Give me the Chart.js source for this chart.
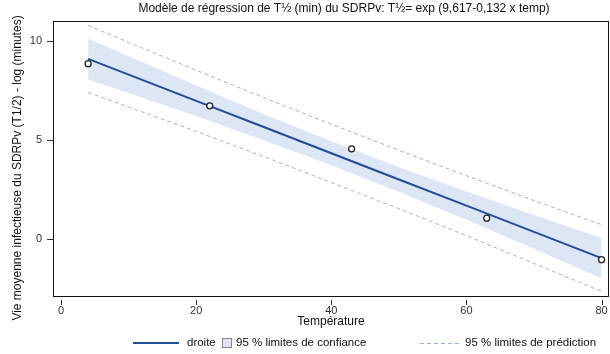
<!DOCTYPE html>
<html>
<head>
<meta charset="utf-8">
<script src="https://cdn.jsdelivr.net/npm/chart.js@4.4.0/dist/chart.umd.min.js"></script>
<style>
    html, body { margin: 0; padding: 0; background: #fff; }
    #wrap { width: 610px; height: 354px; }
</style>
</head>
<body>
<div id="wrap"><canvas id="chart" width="610" height="354"></canvas></div>
<script>
// Observed points (temperature, log half-life)
const obsTemp = [4, 22, 43, 63, 80];
const obsLogT = [8.85, 6.73, 4.56, 1.07, -1.02];

// Fitted line and 95 % bands, read along the temperature grid
const gridTemp = [4, 10, 20, 30, 40, 50, 60, 70, 80];
const fitLine = [9.09, 8.30, 6.98, 5.66, 4.34, 3.02, 1.70, 0.38, -0.94];
const ciLow   = [8.06, 7.37, 6.21, 5.00, 3.74, 2.40, 0.99, -0.47, -1.96];
const ciHigh  = [10.12, 9.22, 7.75, 6.31, 4.94, 3.64, 2.41, 1.23, 0.07];
const piLow   = [7.40, 6.67, 5.44, 4.17, 2.87, 1.55, 0.19, -1.21, -2.62];
const piHigh  = [10.78, 9.92, 8.52, 7.14, 5.80, 4.49, 3.21, 1.96, 0.74];

// Tick labels
const xTicks = [0, 20, 40, 60, 80];
const yTicks = [0, 5, 10];

const FONT = '"Liberation Sans", Arial, sans-serif';
const lineColor = '#1f4e97';
const bandColor = '#dde6f4';
const dashColor = '#9fb3d8';

const toXY = (xs, ys) => xs.map((x, i) => ({ x: x, y: ys[i] }));

// Frame, tick marks, titles and legend
const framePlugin = {
    id: 'frame',
    afterDraw(chart) {
        const ctx = chart.ctx;
        const a = chart.chartArea;
        const xs = chart.scales.x;
        const ys = chart.scales.y;
        ctx.save();
        ctx.strokeStyle = '#111';
        ctx.lineWidth = 1;
        ctx.strokeRect(Math.round(a.left) + 0.5, Math.round(a.top) + 0.5,
            Math.round(a.right - a.left) - 1, Math.round(a.bottom - a.top) - 1);

        ctx.strokeStyle = '#333';
        ctx.beginPath();
        yTicks.forEach(v => {
            const py = Math.round(ys.getPixelForValue(v)) + 0.5;
            ctx.moveTo(a.left - 6, py);
            ctx.lineTo(a.left, py);
        });
        xTicks.forEach(v => {
            const px = Math.round(xs.getPixelForValue(v)) + 0.5;
            ctx.moveTo(px, a.bottom + 3);
            ctx.lineTo(px, a.bottom + 8);
        });
        ctx.stroke();

        // Title
        ctx.fillStyle = '#111';
        ctx.font = '12px ' + FONT;
        ctx.textAlign = 'center';
        ctx.textBaseline = 'middle';
        ctx.fillText('Modèle de régression de T½ (min) du SDRPv: T½= exp (9,617-0,132 x temp)', 344, 9);

        // Y axis title (runs a bit past the plot, as in the original)
        ctx.save();
        ctx.translate(18, 168);
        ctx.rotate(-Math.PI / 2);
        ctx.fillText('Vie moyenne infectieuse du SDRPv (T1/2) - log (minutes)', 0, 0);
        ctx.restore();

        // Legend
        const ly = 343;
        ctx.textAlign = 'left';
        ctx.font = '11.5px ' + FONT;
        ctx.strokeStyle = lineColor;
        ctx.lineWidth = 2;
        ctx.beginPath();
        ctx.moveTo(133, ly);
        ctx.lineTo(179, ly);
        ctx.stroke();
        ctx.fillText('droite', 187, ly);

        ctx.fillStyle = bandColor;
        ctx.fillRect(222, 338, 9, 9);
        ctx.strokeStyle = '#888';
        ctx.lineWidth = 1;
        ctx.strokeRect(222.5, 338.5, 9, 9);
        ctx.fillStyle = '#111';
        ctx.fillText('95 % limites de confiance', 236, ly);

        ctx.strokeStyle = dashColor;
        ctx.setLineDash([4, 3]);
        ctx.beginPath();
        ctx.moveTo(420, ly + 0.5);
        ctx.lineTo(462, ly + 0.5);
        ctx.stroke();
        ctx.setLineDash([]);
        ctx.fillText('95 % limites de prédiction', 465, ly);
        ctx.restore();
    }
};

const config = {
    type: 'scatter',
    data: {
        datasets: [
            {
                label: 'obs',
                data: toXY(obsTemp, obsLogT),
                pointRadius: 3,
                pointBorderColor: '#222',
                pointBackgroundColor: '#fff',
                pointBorderWidth: 1.3,
                showLine: false
            },
            {
                label: 'droite',
                data: toXY(gridTemp, fitLine),
                showLine: true,
                borderColor: lineColor,
                borderWidth: 2,
                pointRadius: 0,
                fill: false
            },
            {
                label: 'pred haut',
                data: toXY(gridTemp, piHigh),
                showLine: true,
                borderColor: dashColor,
                borderWidth: 1,
                borderDash: [4, 3],
                pointRadius: 0,
                fill: false
            },
            {
                label: 'pred bas',
                data: toXY(gridTemp, piLow),
                showLine: true,
                borderColor: dashColor,
                borderWidth: 1,
                borderDash: [4, 3],
                pointRadius: 0,
                fill: false
            },
            {
                label: 'conf haut',
                data: toXY(gridTemp, ciHigh),
                showLine: true,
                borderWidth: 0,
                borderColor: 'rgba(0,0,0,0)',
                backgroundColor: bandColor,
                pointRadius: 0,
                fill: '+1'
            },
            {
                label: 'conf bas',
                data: toXY(gridTemp, ciLow),
                showLine: true,
                borderWidth: 0,
                borderColor: 'rgba(0,0,0,0)',
                pointRadius: 0,
                fill: false
            }
        ]
    },
    options: {
        responsive: false,
        animation: false,
        layout: {
            autoPadding: false,
            padding: { top: 21, right: 1, bottom: 22, left: 0 }
        },
        plugins: {
            legend: { display: false },
            tooltip: { enabled: false }
        },
        scales: {
            x: {
                type: 'linear',
                min: -1.2,
                max: 81.1,
                afterBuildTicks: s => { s.ticks = xTicks.map(v => ({ value: v })); },
                afterFit: s => { s.height = 35; },
                // tick marks are drawn by the frame plugin; tickLength only offsets labels
                grid: { display: false, drawTicks: true, tickLength: 7 },
                border: { display: false },
                ticks: {
                    padding: 0,
                    autoSkip: false,
                    maxRotation: 0,
                    color: '#333',
                    font: { family: FONT, size: 11 }
                },
                title: {
                    display: true,
                    text: 'Température',
                    color: '#111',
                    font: { family: FONT, size: 12 },
                    padding: { top: 0, bottom: 3 }
                }
            },
            y: {
                type: 'linear',
                min: -2.9,
                max: 11.0,
                afterBuildTicks: s => { s.ticks = yTicks.map(v => ({ value: v })); },
                afterFit: s => { s.width = 53; },
                grid: { display: false, drawTicks: false },
                border: { display: false },
                ticks: {
                    padding: 11,
                    color: '#333',
                    font: { family: FONT, size: 11 }
                },
                title: { display: false }
            }
        }
    },
    plugins: [framePlugin]
};

new Chart(document.getElementById('chart').getContext('2d'), config);
</script>
</body>
</html>
